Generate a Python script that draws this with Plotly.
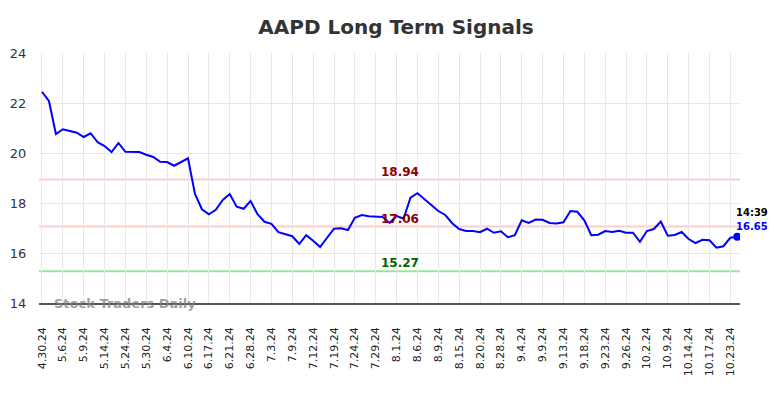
import plotly.graph_objects as go

title = "AAPD Long Term Signals"
tick_labels = ["4.30.24", "5.6.24", "5.9.24", "5.14.24", "5.24.24", "5.30.24", "6.4.24",
               "6.10.24", "6.17.24", "6.21.24", "6.28.24", "7.3.24", "7.9.24", "7.12.24",
               "7.19.24", "7.24.24", "7.29.24", "8.1.24", "8.6.24", "8.9.24", "8.15.24",
               "8.20.24", "8.28.24", "9.4.24", "9.9.24", "9.13.24", "9.18.24", "9.23.24",
               "9.26.24", "10.2.24", "10.9.24", "10.14.24", "10.17.24", "10.23.24"]
prices = [22.45, 22.08, 20.76, 20.95, 20.88, 20.81, 20.64, 20.79, 20.43, 20.28,
          20.04, 20.40, 20.05, 20.05, 20.04, 19.93, 19.84, 19.65, 19.64, 19.49,
          19.64, 19.79, 18.36, 17.75, 17.55, 17.73, 18.12, 18.36, 17.85, 17.77,
          18.08, 17.55, 17.25, 17.17, 16.83, 16.75, 16.67, 16.36, 16.71, 16.49,
          16.24, 16.61, 16.97, 16.99, 16.92, 17.41, 17.52, 17.47, 17.47, 17.44,
          17.20, 17.48, 17.37, 18.21, 18.39, 18.15, 17.89, 17.68, 17.52, 17.19,
          16.96, 16.88, 16.88, 16.83, 16.97, 16.81, 16.87, 16.63, 16.71, 17.31,
          17.20, 17.34, 17.33, 17.20, 17.18, 17.23, 17.68, 17.65, 17.31, 16.71,
          16.73, 16.88, 16.84, 16.89, 16.81, 16.81, 16.45, 16.88, 16.96, 17.26,
          16.69, 16.72, 16.84, 16.56, 16.40, 16.53, 16.51, 16.21, 16.27, 16.61,
          16.65]
tick_step = 3
upper_level = 18.94
mid_level = 17.06
lower_level = 15.27
last_time = "14:39"
last_price = 16.65

x_idx = list(range(len(prices)))
tick_vals = [i * tick_step for i in range(len(tick_labels))]

fig = go.Figure()
fig.add_trace(go.Scatter(x=x_idx, y=prices, mode="lines",
                         line=dict(color="#0000ff", width=2), hoverinfo="skip"))
fig.add_trace(go.Scatter(x=[x_idx[-1]], y=[last_price], mode="markers",
                         marker=dict(color="#0000ff", size=8), hoverinfo="skip"))

for lvl, col in [(upper_level, "#ffcccc"), (mid_level, "#ffcccc"), (lower_level, "#99e699")]:
    fig.add_hline(y=lvl, line=dict(color=col, width=2), layer="below")

for lvl, col in [(upper_level, "#8b0000"), (mid_level, "#8b0000"), (lower_level, "#006400")]:
    fig.add_annotation(xref="paper", x=0.515, y=lvl, text=f"<b>{lvl:.2f}</b>", showarrow=False,
                       yshift=8, font=dict(size=12, color=col, family="DejaVu Sans"))

fig.add_annotation(x=x_idx[-1], y=last_price, text=f"<b>{last_time}</b>", showarrow=False,
                   xanchor="left", xshift=-3, yshift=24,
                   font=dict(size=10, color="#000000", family="DejaVu Sans"))
fig.add_annotation(x=x_idx[-1], y=last_price, text=f"<b>{last_price:.2f}</b>", showarrow=False,
                   xanchor="left", xshift=-3, yshift=10,
                   font=dict(size=10, color="#0000ff", family="DejaVu Sans"))

fig.add_annotation(xref="paper", yref="paper", x=0.019, y=0.0, xanchor="left", yanchor="middle",
                   text="<b>Stock Traders Daily</b>", showarrow=False,
                   font=dict(size=13, color="rgba(128,128,128,0.75)", family="DejaVu Sans"))

fig.update_layout(
    width=776, height=390,
    margin=dict(l=31, r=44, t=45, b=95, autoexpand=False),
    paper_bgcolor="white", plot_bgcolor="white",
    showlegend=False,
    title=dict(text=f"<b>{title}</b>", x=0.5, xanchor="center", y=0.951, yanchor="middle",
               font=dict(size=20, color="#333333", family="DejaVu Sans")),
    font=dict(family="DejaVu Sans", color="#333333"),
)
fig.update_xaxes(range=[-0.43, 100.39], tickmode="array", tickvals=tick_vals, ticktext=tick_labels,
                 tickangle=-90, tickfont=dict(size=11, color="#222222"), automargin=False,
                 showgrid=True, gridcolor="#e8e8e8", gridwidth=1,
                 showline=True, linecolor="#555555", linewidth=1.5,
                 ticks="outside", ticklen=18, tickcolor="rgba(0,0,0,0)", zeroline=False)
fig.update_yaxes(range=[14, 24], tickvals=[14, 16, 18, 20, 22, 24], automargin=False,
                 tickfont=dict(size=13, color="#333333"),
                 showgrid=True, gridcolor="#e8e8e8", gridwidth=1,
                 ticks="outside", ticklen=9, tickcolor="rgba(0,0,0,0)", zeroline=False)

fig.write_html("out.html")
